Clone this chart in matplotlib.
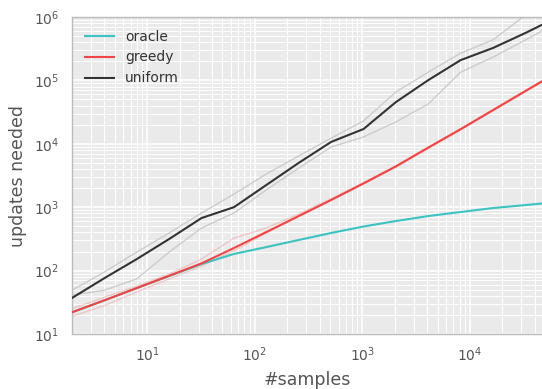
import matplotlib
matplotlib.use("Agg")
import matplotlib.pyplot as plt

# number of samples: 2^1 .. 2^16
samples = [2, 4, 8, 16, 32, 64, 128, 256, 512, 1024, 2048, 4096, 8192, 16384, 32768, 65536]

oracle = [22, 34, 53, 82, 127, 183, 235, 304, 392, 496, 605, 725, 840, 970, 1080, 1210]

greedy = [22, 34, 53, 83, 130, 227, 406, 726, 1300, 2370, 4400, 8700, 17000, 34000, 68000, 135000]
greedy_hi = [25, 38, 57, 88, 152, 325, 470, 780, 1360, 2450, 4500, 8900, 17400, 34800, 69500, 138000]
greedy_lo = [19, 28, 46, 74, 118, 205, 390, 710, 1280, 2320, 4300, 8500, 16600, 33200, 66500, 132000]

uniform = [37, 76, 152, 315, 675, 1000, 2240, 5000, 10700, 17100, 45500, 101000, 209000, 325000, 560000, 1000000]
uniform_hi = [49, 95, 196, 392, 810, 1610, 3340, 6420, 12300, 22900, 65600, 135000, 269000, 436000, 1070000, 2000000]
uniform_lo = [41, 49, 74, 196, 470, 810, 1870, 4150, 8900, 12800, 22100, 42500, 135000, 233000, 434000, 830000]

series_names = ["oracle", "greedy", "uniform"]

W, H = 542, 389
fig = plt.figure(figsize=(W / 100, H / 100), dpi=100)
ax = fig.add_axes([72 / W, 1 - 334 / H, 1 - 72 / W, (334 - 17) / H])
ax.set_facecolor("#EAEAEA")
ax.set_xscale("log")
ax.set_yscale("log")

ax.grid(True, which="major", color="white", lw=1.1)
ax.grid(True, which="minor", color="white", lw=0.7)
ax.set_axisbelow(True)

# light variability lines
ax.plot(samples, greedy_hi, color="#F08080", lw=1.0, alpha=0.35, zorder=2)
ax.plot(samples, greedy_lo, color="#F08080", lw=1.0, alpha=0.35, zorder=2)
ax.plot(samples, uniform_hi, color="#C4C4C4", lw=1.0, alpha=0.8, zorder=2)
ax.plot(samples, uniform_lo, color="#C4C4C4", lw=1.0, alpha=0.8, zorder=2)

ax.plot(samples, oracle, color="#3CC3C0", lw=1.5, label=series_names[0], zorder=3)
ax.plot(samples, greedy, color="#F04545", lw=1.5, label=series_names[1], zorder=3)
ax.plot(samples, uniform, color="#333333", lw=1.5, label=series_names[2], zorder=3)

ax.set_xlim(2, 46700)
ax.set_ylim(10, 1e6)

for s in ["left", "bottom", "top"]:
    ax.spines[s].set_color("#BBBBBB")
    ax.spines[s].set_linewidth(1.0)
ax.spines["right"].set_visible(False)

ax.tick_params(which="both", length=0, labelcolor="#555555", labelsize=10)
ax.tick_params(axis="y", pad=9)
ax.tick_params(axis="x", pad=8)

ax.set_xlabel("#samples", fontsize=12.5, color="#555555", labelpad=5)
ax.set_ylabel("updates needed", fontsize=12.5, color="#555555", labelpad=5)

leg = ax.legend(loc="upper left", frameon=False, fontsize=10, handlelength=2.1)
for t in leg.get_texts():
    t.set_color("#333333")

fig.savefig("out.png", dpi=100)
